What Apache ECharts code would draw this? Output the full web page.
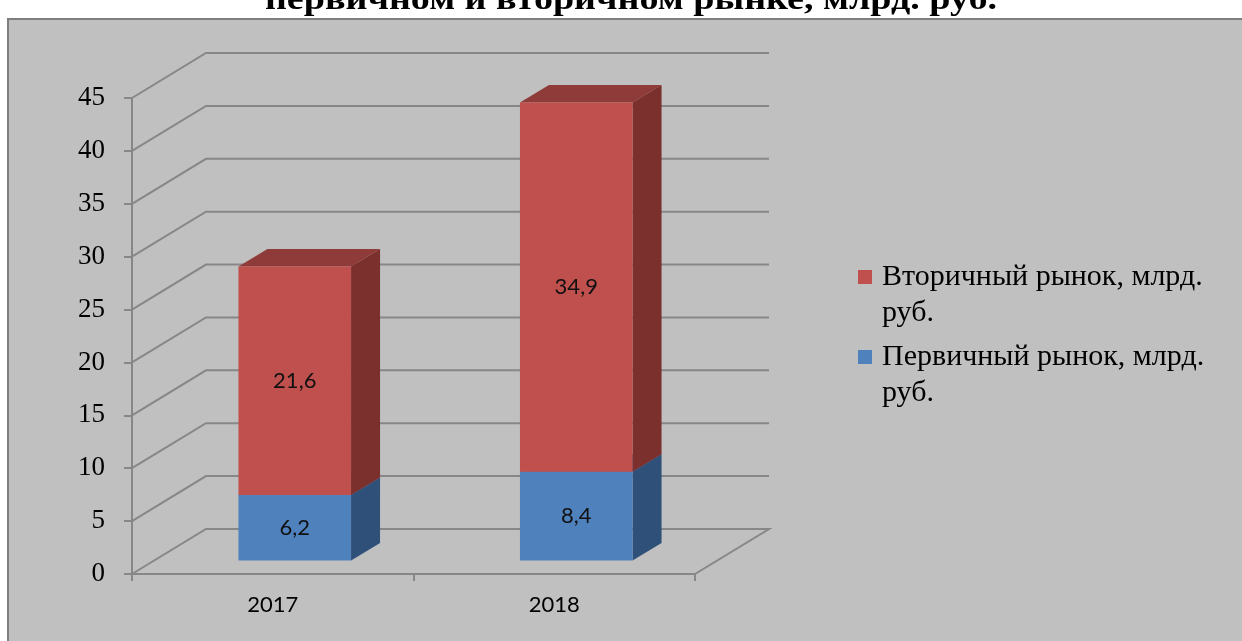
<!DOCTYPE html>
<html>
<head>
<meta charset="utf-8">
<script src="https://cdn.jsdelivr.net/npm/echarts@6/dist/echarts.min.js"></script>
<style>
html,body{margin:0;padding:0;background:#fff;}
#c{width:1242px;height:641px;}
</style>
</head>
<body>
<div id="c"></div>
<script>
const titleText = 'первичном и вторичном рынке, млрд. руб.';
const categories = ['2017', '2018'];
const primaryName = 'Первичный рынок, млрд. руб.';
const secondaryName = 'Вторичный рынок, млрд. руб.';
const primaryValues = [6.2, 8.4];
const secondaryValues = [21.6, 34.9];
const yTicks = [0, 5, 10, 15, 20, 25, 30, 35, 40, 45];

// geometry / style constants
const WALL_DX = 74, WALL_DY = -45;
const BAR_FX = 22, BAR_FY = -13.5;
const BAR_DX = 29, BAR_DY = -17.5;
const GRID_COLOR = '#878787';

const primaryData = categories.map((c, i) => [i, 0, primaryValues[i]]);
const secondaryData = categories.map((c, i) => [i, primaryValues[i], primaryValues[i] + secondaryValues[i]]);
const gridData = yTicks.map(v => [0, v]);

function fmt(v) { return String(Math.round(v * 10) / 10).replace('.', ','); }

function makeBarRender(front, side, top) {
  return function (params, api) {
    const cat = api.value(0), lo = api.value(1), hi = api.value(2);
    const pLo = api.coord([cat, lo]);
    const pHi = api.coord([cat, hi]);
    const bw = api.size([1, 0])[0] * 0.4;
    const xL = pLo[0] - bw / 2 + BAR_FX, xR = xL + bw;
    const yB = pLo[1] + BAR_FY, yT = pHi[1] + BAR_FY;
    return {
      type: 'group',
      children: [
        { type: 'polygon', shape: { points: [[xL, yT], [xL + BAR_DX, yT + BAR_DY], [xR + BAR_DX, yT + BAR_DY], [xR, yT]] }, style: { fill: top } },
        { type: 'polygon', shape: { points: [[xR, yB], [xR + BAR_DX, yB + BAR_DY], [xR + BAR_DX, yT + BAR_DY], [xR, yT]] }, style: { fill: side } },
        { type: 'rect', shape: { x: xL, y: yT, width: bw, height: yB - yT }, style: { fill: front } },
        { type: 'text', x: (xL + xR) / 2, y: (yT + yB) / 2, style: { text: fmt(hi - lo), align: 'center', verticalAlign: 'middle', fill: '#111', font: '22px Lato' } }
      ]
    };
  };
}

const chart = echarts.init(document.getElementById('c'), null, { renderer: 'canvas' });
chart.setOption({
  backgroundColor: '#ffffff',
  animation: false,
  graphic: [
    { type: 'rect', z: -10, shape: { x: 8, y: 19, width: 1300, height: 700 }, style: { fill: '#c0c0c0', stroke: '#7f7f7f', lineWidth: 2 } },
    { type: 'text', z: 10, x: 631, y: 1, scaleX: 1.19, style: { text: titleText, align: 'center', verticalAlign: 'middle', fill: '#000', font: 'bold 32px "Liberation Serif"' } }
  ],
  grid: { left: 132, right: 547, top: 98, bottom: 67 },
  legend: [
    {
      data: [secondaryName], left: 858, top: 223, padding: 0, selectedMode: false,
      icon: 'rect', itemWidth: 14, itemHeight: 14,
      formatter: function (n) { return '\nВторичный рынок, млрд.\nруб.'; },
      textStyle: { fontFamily: 'Liberation Serif', fontSize: 30, lineHeight: 36, color: '#000', padding: [0, 0, 0, 5] }
    },
    {
      data: [primaryName], left: 858, top: 303, padding: 0, selectedMode: false,
      icon: 'rect', itemWidth: 14, itemHeight: 14,
      formatter: function (n) { return '\nПервичный рынок, млрд.\nруб.'; },
      textStyle: { fontFamily: 'Liberation Serif', fontSize: 30, lineHeight: 36, color: '#000', padding: [0, 0, 0, 5] }
    }
  ],
  xAxis: {
    type: 'category', data: categories,
    axisLine: { show: true, lineStyle: { color: GRID_COLOR, width: 2 } },
    axisTick: { show: true, length: 7, lineStyle: { color: GRID_COLOR, width: 2 } },
    axisLabel: { margin: 20, color: '#000', fontFamily: 'Lato', fontSize: 22 },
    splitLine: { show: false }
  },
  yAxis: {
    type: 'value', min: 0, max: 45, interval: 5,
    axisLine: { show: true, lineStyle: { color: GRID_COLOR, width: 2 } },
    axisTick: { show: true, length: 8, lineStyle: { color: GRID_COLOR, width: 2 } },
    axisLabel: { margin: 27, color: '#000', fontFamily: 'Liberation Serif', fontSize: 27 },
    splitLine: { show: false }
  },
  series: [
    {
      type: 'custom', name: 'walls', silent: true, z: 1,
      data: gridData, encode: { x: 0, y: 1 },
      renderItem: function (params, api) {
        const cs = params.coordSys;
        const y = api.coord([0, api.value(1)])[1];
        const x0 = cs.x, x1 = cs.x + cs.width;
        let pts;
        if (api.value(1) === 0) {
          pts = [[x1, y], [x1 + WALL_DX, y + WALL_DY], [x0 + WALL_DX, y + WALL_DY], [x0, y]];
        } else {
          pts = [[x0, y], [x0 + WALL_DX, y + WALL_DY], [x1 + WALL_DX, y + WALL_DY]];
        }
        return { type: 'polyline', shape: { points: pts }, style: { stroke: GRID_COLOR, lineWidth: 2, fill: null } };
      }
    },
    {
      type: 'custom', name: primaryName, z: 3,
      itemStyle: { color: '#4f81bd' },
      data: primaryData, encode: { x: 0, y: [1, 2] },
      renderItem: makeBarRender('#4f81bd', '#2f5078', '#3d6699')
    },
    {
      type: 'custom', name: secondaryName, z: 4,
      itemStyle: { color: '#c0504d' },
      data: secondaryData, encode: { x: 0, y: [1, 2] },
      renderItem: makeBarRender('#c0504d', '#7b302e', '#8f3b39')
    }
  ]
});
</script>
</body>
</html>
